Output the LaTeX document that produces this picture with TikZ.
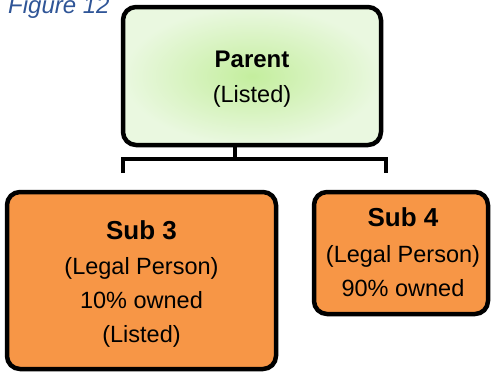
\documentclass[tikz,border=0pt]{standalone}
\usepackage{fontspec}
\setmainfont{Liberation Sans}
\definecolor{orangefill}{RGB}{247,150,70}
\definecolor{greenin}{RGB}{196,238,158}
\definecolor{greenout}{RGB}{234,248,224}
\definecolor{figblue}{RGB}{47,85,151}
\tikzset{
  boxline/.style={draw=black, line width=4.5pt, rounded corners=13pt, inner sep=0pt},
  parentbox/.style={boxline, shading=radial, inner color=greenin, outer color=greenout},
  subbox/.style={boxline, fill=orangefill},
  conn/.style={draw=black, line width=4.5pt, line join=miter},
  boldtxt/.style={anchor=base, inner sep=0pt, font=\fontsize{24}{28}\selectfont\bfseries},
  bigbold/.style={anchor=base, inner sep=0pt, font=\fontsize{26}{30}\selectfont\bfseries},
  regtxt/.style={anchor=base, inner sep=0pt, font=\fontsize{23.5}{28}\selectfont},
}
\begin{document}
\begin{tikzpicture}[x=1pt, y=-1pt]
\useasboundingbox (0,0) rectangle (491,372);
% caption
\node[anchor=base west, inner sep=0pt, text=figblue, font=\fontsize{24}{28}\selectfont\itshape] (cap) at (8,13) {Figure 12};
% boxes
\node[parentbox, minimum width=258pt, minimum height=138pt] (parent) at (252,76) {};
\node[subbox, minimum width=269pt, minimum height=177pt] (sub3) at (141.5,280.5) {};
\node[subbox, minimum width=174pt, minimum height=122pt] (sub4) at (401,253) {};
% texts
\node[boldtxt] (pt1) at (252,67) {Parent};
\node[regtxt] (pt2) at (252,102) {(Listed)};
\node[bigbold] (s3a) at (141.5,239) {Sub 3};
\node[regtxt] (s3b) at (141.5,274) {(Legal Person)};
\node[regtxt] (s3c) at (141.5,308) {10\% owned};
\node[regtxt] (s3d) at (141.5,342) {(Listed)};
\node[bigbold] (s4a) at (403,226) {Sub 4};
\node[regtxt] (s4b) at (403,262) {(Legal Person)};
\node[regtxt] (s4c) at (403,296) {90\% owned};
% connectors
\coordinate (ptop) at (235,144);
\coordinate (junc) at (235,159);
\coordinate (lc) at (123,159);
\coordinate (rc) at (386,159);
\coordinate (ld) at (123,173);
\coordinate (rd) at (386,173);
\draw[conn] (ptop) -- (junc);
\draw[conn] (ld) -- (lc) -- (rc) -- (rd);
\end{tikzpicture}
\end{document}
